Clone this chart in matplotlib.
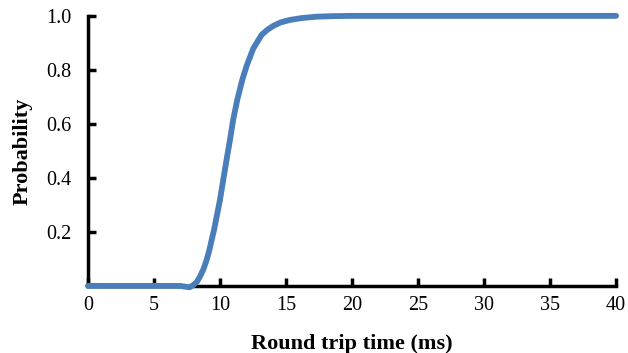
import matplotlib
matplotlib.use("Agg")
import matplotlib.pyplot as plt
import numpy as np

# Round trip time (ms) and cumulative probability
rtt = [0, 2, 4, 6, 7, 7.4, 7.7, 7.98, 8.25, 8.48, 8.75, 8.99, 9.2, 9.37, 9.55, 9.7, 9.85,
       10.0, 10.25, 10.5, 10.76, 11.0, 11.31, 11.69, 12.02, 12.53, 13.16, 13.6, 14.04, 14.6,
       15.3, 16.2, 17.3, 18.5, 20, 25, 30, 35, 40]
prob = [0, 0, 0, 0, 0, -0.003, -0.005, 0.003, 0.015, 0.034, 0.062, 0.096, 0.133, 0.17, 0.207,
        0.244, 0.281, 0.318, 0.393, 0.467, 0.541, 0.615, 0.689, 0.763, 0.815, 0.88, 0.93,
        0.949, 0.963, 0.976, 0.985, 0.992, 0.997, 0.999, 1.0, 1.0, 1.0, 1.0, 1.0]

xticks = [0, 5, 10, 15, 20, 25, 30, 35, 40]
yticks = [0.2, 0.4, 0.6, 0.8, 1.0]

plt.rcParams['font.family'] = ['Liberation Serif', 'DejaVu Serif']

fig = plt.figure(figsize=(6.28, 3.53), dpi=100)
ax = fig.add_axes([0.140, 0.190, 0.841, 0.765])

ax.plot(rtt, prob, color='#4a7ebb', linewidth=4.2, solid_capstyle='round',
        solid_joinstyle='round', clip_on=False, zorder=3)

ax.set_xlim(0, 40)
ax.set_ylim(0, 1.0)
ax.set_xticks(xticks)
ax.set_xticklabels([str(t) for t in xticks])
ax.set_yticks(yticks)
ax.set_yticklabels([f"{t:.1f}" for t in yticks])

for s in ['top', 'right']:
    ax.spines[s].set_visible(False)
for s in ['left', 'bottom']:
    ax.spines[s].set_linewidth(2.5)
    ax.spines[s].set_capstyle('projecting')

ax.tick_params(direction='in', length=6, width=2.5, labelsize=14.5)
ax.tick_params(axis='x', pad=7)
ax.tick_params(axis='y', pad=12)

ax.set_xlabel('Round trip time (ms)', fontsize=16, fontweight='bold', labelpad=14)
ax.set_ylabel('Probability', fontsize=16, fontweight='bold', labelpad=10)

fig.savefig('out.png', dpi=100)
